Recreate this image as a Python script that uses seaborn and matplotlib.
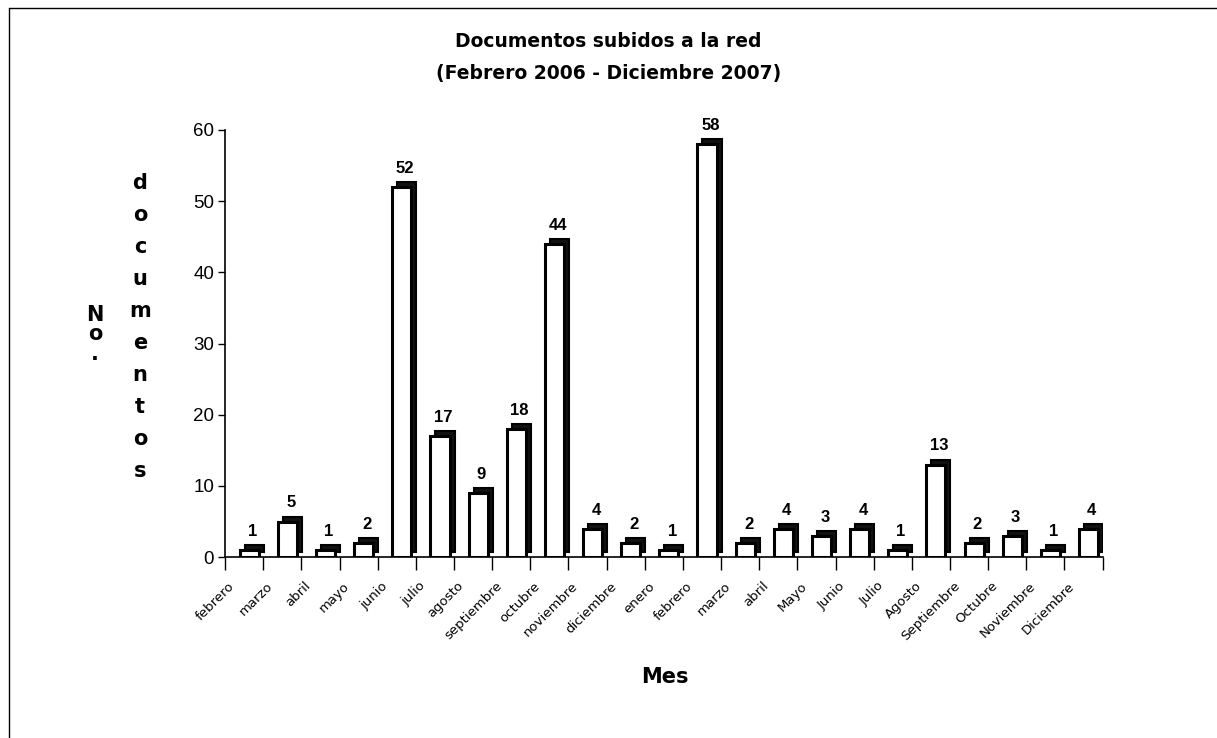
import matplotlib
matplotlib.use("Agg")
import matplotlib.pyplot as plt
import matplotlib.transforms as mtransforms
from matplotlib.patches import Rectangle
from matplotlib.lines import Line2D
import numpy as np
import pandas as pd
import seaborn as sns

# Monthly uploads, Feb 2006 - Dec 2007
meses = ["febrero", "marzo", "abril", "mayo", "junio", "julio", "agosto",
         "septiembre", "octubre", "noviembre", "diciembre", "enero",
         "febrero", "marzo", "abril", "Mayo", "Junio", "Julio", "Agosto",
         "Septiembre", "Octubre", "Noviembre", "Diciembre"]
documentos = [1, 5, 1, 2, 52, 17, 9, 18, 44, 4, 2, 1,
              58, 2, 4, 3, 4, 1, 13, 2, 3, 1, 4]
yticks = [0, 10, 20, 30, 40, 50, 60]

df = pd.DataFrame({"pos": np.arange(len(meses)), "mes": meses, "n": documentos})

sns.set_theme(style="white")
plt.rcParams["font.family"] = ["DejaVu Sans"]
plt.rcParams.update({"text.color": "black", "axes.labelcolor": "black",
                     "xtick.color": "black", "ytick.color": "black"})

fig = plt.figure(figsize=(12.17, 7.38), dpi=100)
ax = fig.add_axes([0.185, 0.245, 0.721, 0.579])

sns.barplot(data=df, x="pos", y="n", ax=ax, color="white", width=0.5,
            edgecolor="black", linewidth=2.2, saturation=1)

# pseudo-3D look: every bar sits slightly back on the floor, with a dark
# copy shifted up and to the right acting as side and top faces
back = mtransforms.ScaledTranslation(5 / 100, 0, fig.dpi_scale_trans)
depth = mtransforms.ScaledTranslation(10 / 100, 5 / 100, fig.dpi_scale_trans)
for p in list(ax.patches):
    x, y = p.get_x(), p.get_y()
    w, h = p.get_width(), p.get_height()
    shade = Rectangle((x, y), w, h, facecolor="#111111", edgecolor="black",
                      linewidth=1.5, transform=ax.transData + depth,
                      zorder=p.get_zorder() - 0.1)
    ax.add_patch(shade)
    p.set_transform(ax.transData + back)
    p.set_zorder(p.get_zorder() + 0.5)

# value labels above bars
for i, v in enumerate(documentos):
    ax.annotate(str(v), (i, v), xytext=(6, 8), textcoords="offset points",
                ha="center", va="bottom", fontsize=12, fontweight="bold",
                family="Liberation Sans", color="black")

n = len(meses)
ax.set_xlim(-0.5, n - 0.5)
ax.set_ylim(0, 60)
ax.set_yticks(yticks)
ax.set_yticklabels([str(t) for t in yticks], fontsize=13.5, family="Liberation Sans")
ax.tick_params(axis="y", direction="out", length=5, width=1, color="black", pad=3, left=True)

ax.set_xticks(np.arange(n))
ax.set_xticklabels(meses, rotation=45, ha="right", rotation_mode="anchor", fontsize=9.5)
ax.set_xticks(np.arange(n + 1) - 0.5, minor=True)
ax.tick_params(axis="x", which="major", length=0, pad=16)
ax.tick_params(axis="x", which="minor", direction="out", length=9, width=1,
               color="black", bottom=True)
shift = mtransforms.ScaledTranslation(-16 / 100, 0, fig.dpi_scale_trans)
for lab in ax.get_xticklabels():
    lab.set_transform(lab.get_transform() + shift)

ax.set_xlabel("")
ax.set_ylabel("")
for side in ["top", "right"]:
    ax.spines[side].set_visible(False)
for side in ["left", "bottom"]:
    ax.spines[side].set_linewidth(1.2)
    ax.spines[side].set_color("black")

fig.text(0.5, 0.944, "Documentos subidos a la red", ha="center", va="center",
         fontsize=13.5, fontweight="bold")
fig.text(0.5, 0.900, "(Febrero 2006 - Diciembre 2007)", ha="center", va="center",
         fontsize=13.5, fontweight="bold")

fig.text(0.546, 0.083, "Mes", ha="center", va="center", fontsize=15, fontweight="bold")

fig.text(0.078, 0.547, "\n".join("No."), ha="center", va="center",
         fontsize=15, fontweight="bold", linespacing=0.95)
fig.text(0.115, 0.557, "\n".join("documentos"), ha="center", va="center",
         fontsize=15, fontweight="bold", linespacing=1.75)

# outer frame lines on the left and top
fig.add_artist(Line2D([0.007, 0.007], [0.0, 0.989], color="black", lw=1.0,
                      transform=fig.transFigure))
fig.add_artist(Line2D([0.007, 1.0], [0.989, 0.989], color="black", lw=1.0,
                      transform=fig.transFigure))

fig.savefig("out.png", dpi=100, facecolor="white")
